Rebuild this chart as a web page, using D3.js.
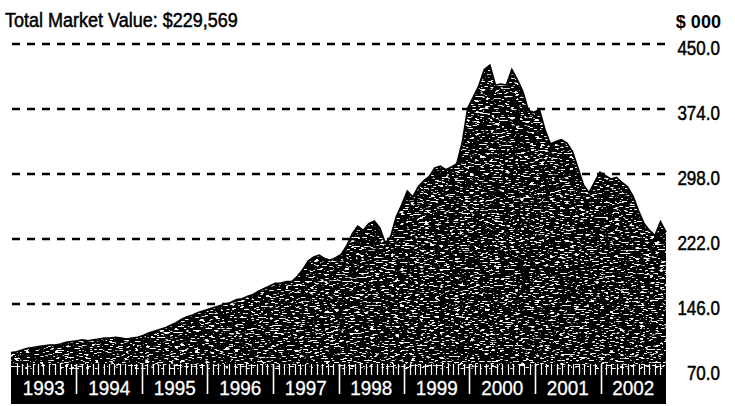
<!DOCTYPE html>
<html>
<head>
<meta charset="utf-8">
<script src="https://cdn.jsdelivr.net/npm/d3@7"></script>
<style>
  body { margin: 0; background: #fff; }
  svg { display: block; }
  text { font-family: "Liberation Sans", Arial, sans-serif; }
</style>
</head>
<body>
<svg id="chart" width="735" height="406"></svg>
<script>
// Total market value, $000, monthly from Jan 1993 to Dec 2002
const years = [1993, 1994, 1995, 1996, 1997, 1998, 1999, 2000, 2001, 2002];
const marketValue = [
  89, 90, 92, 94, 95, 96, 97, 98, 98, 99, 101, 102,            // 1993
  103, 104, 103, 104, 105, 106, 106, 107, 106, 105, 106, 107,  // 1994
  109, 112, 114, 116, 118, 121, 124, 128, 131, 133, 136, 138,  // 1995
  140, 142, 144, 146, 148, 151, 152, 155, 157, 161, 164, 167,  // 1996
  170, 170, 172, 172, 178, 186, 196, 201, 203, 199, 197, 200,  // 1997
  204, 214, 228, 237, 232, 240, 243, 235, 217, 225, 248, 262,  // 1998
  278, 271, 283, 290, 295, 305, 307, 303, 306, 310, 335, 375,  // 1999
  388, 401, 420, 425, 402, 403, 402, 420, 408, 394, 372, 370,  // 2000
  373, 350, 333, 336, 338, 334, 324, 305, 285, 276, 288, 300,  // 2001
  296, 292, 294, 288, 283, 272, 255, 240, 232, 226, 242, 230   // 2002
];
const gridValues = [450, 374, 298, 222, 146];
const axisValues = [450, 374, 298, 222, 146, 70];
const titleText = "Total Market Value:  $229,569";
const unitText = "$ 000";

const svg = d3.select("#chart");
const left = 11, right = 666;

const xIndex = d3.scaleLinear().domain([0, marketValue.length - 1]).range([left, right]);
const xTime = d3.scaleTime()
  .domain([new Date(years[0], 0, 1), new Date(years[years.length - 1] + 1, 0, 1)])
  .range([left, right]);
const y = d3.scaleLinear().domain([70, 450]).range([369, 44]);

// squeeze a text element horizontally to mimic a condensed face
function condense(sel, factor) {
  sel.each(function () {
    const w = this.getComputedTextLength();
    d3.select(this).attr("textLength", (w * factor).toFixed(1)).attr("lengthAdjust", "spacingAndGlyphs");
  });
}

// grain texture for the filled area: white flecks on black
const defs = svg.append("defs");
const f = defs.append("filter").attr("id", "grain")
  .attr("x", 0).attr("y", 0).attr("width", "100%").attr("height", "100%");
f.append("feTurbulence").attr("type", "fractalNoise")
  .attr("baseFrequency", "0.2 0.75").attr("numOctaves", 2).attr("seed", 7).attr("result", "noise");
f.append("feColorMatrix").attr("in", "noise").attr("type", "matrix")
  .attr("values", "0 0 0 0 1  0 0 0 0 1  0 0 0 0 1  14 0 0 0 -8.3").attr("result", "flecks");
f.append("feComposite").attr("in", "flecks").attr("in2", "SourceGraphic").attr("operator", "in").attr("result", "inside");
const merge = f.append("feMerge");
merge.append("feMergeNode").attr("in", "SourceGraphic");
merge.append("feMergeNode").attr("in", "inside");

// dashed reference lines
svg.append("g").selectAll("line").data(gridValues).join("line")
  .attr("x1", 12).attr("x2", 668)
  .attr("y1", d => y(d)).attr("y2", d => y(d))
  .attr("stroke", "#000").attr("stroke-width", 2.6)
  .attr("stroke-dasharray", "8,7");

// bottom band
svg.append("rect")
  .attr("x", left).attr("y", y(70)).attr("width", right - left).attr("height", 404 - y(70))
  .attr("fill", "#000");

// market value area
const area = d3.area()
  .x((d, i) => xIndex(i))
  .y0(y(70))
  .y1(d => y(d));
svg.append("path").datum(marketValue)
  .attr("d", area)
  .attr("fill", "#000")
  .attr("filter", "url(#grain)");
svg.append("path").datum(marketValue)
  .attr("d", d3.line().x((d, i) => xIndex(i)).y(d => y(d)))
  .attr("fill", "none").attr("stroke", "#000").attr("stroke-width", 1.8);

// month ticks and year separators on the band
const months = d3.timeMonth.range(xTime.domain()[0], xTime.domain()[1]);
svg.append("g").selectAll("line").data(months.filter(m => m.getMonth() !== 0)).join("line")
  .attr("x1", d => Math.round(xTime(d)) + 0.5).attr("x2", d => Math.round(xTime(d)) + 0.5)
  .attr("y1", 364).attr("y2", 375)
  .attr("stroke", "#fff").attr("stroke-width", 1.2);
svg.append("g").selectAll("line").data(years.slice(1)).join("line")
  .attr("x1", d => Math.round(xTime(new Date(d, 0, 1))) + 0.5)
  .attr("x2", d => Math.round(xTime(new Date(d, 0, 1))) + 0.5)
  .attr("y1", 364).attr("y2", 394)
  .attr("stroke", "#fff").attr("stroke-width", 1.6);

// year labels
svg.append("g").selectAll("text").data(years).join("text")
  .attr("x", d => (xTime(new Date(d, 0, 1)) + xTime(new Date(d + 1, 0, 1))) / 2)
  .attr("y", 395)
  .attr("text-anchor", "middle")
  .attr("fill", "#fff")
  .attr("stroke", "#fff").attr("stroke-width", 0.3)
  .attr("font-size", 21)
  .text(d => d)
  .call(condense, 0.9);

// value axis on the right
const axis = svg.append("g")
  .attr("transform", "translate(720,4)")
  .call(d3.axisLeft(y).tickValues(axisValues).tickFormat(d3.format(".1f")).tickSize(0).tickPadding(0));
axis.select(".domain").remove();
axis.selectAll("text").attr("font-size", 20).attr("fill", "#000")
  .attr("stroke", "#000").attr("stroke-width", 0.5)
  .style("font-family", "\"Liberation Sans\", Arial, sans-serif")
  .call(condense, 0.85);

svg.append("text").attr("x", 721).attr("y", 28).attr("text-anchor", "end")
  .attr("font-size", 19).attr("font-weight", "bold").text(unitText)
  .call(condense, 0.95);

svg.append("text").attr("x", 5).attr("y", 27)
  .attr("font-size", 20)
  .attr("stroke", "#000").attr("stroke-width", 0.5)
  .text(titleText)
  .call(condense, 0.9);
</script>
</body>
</html>
